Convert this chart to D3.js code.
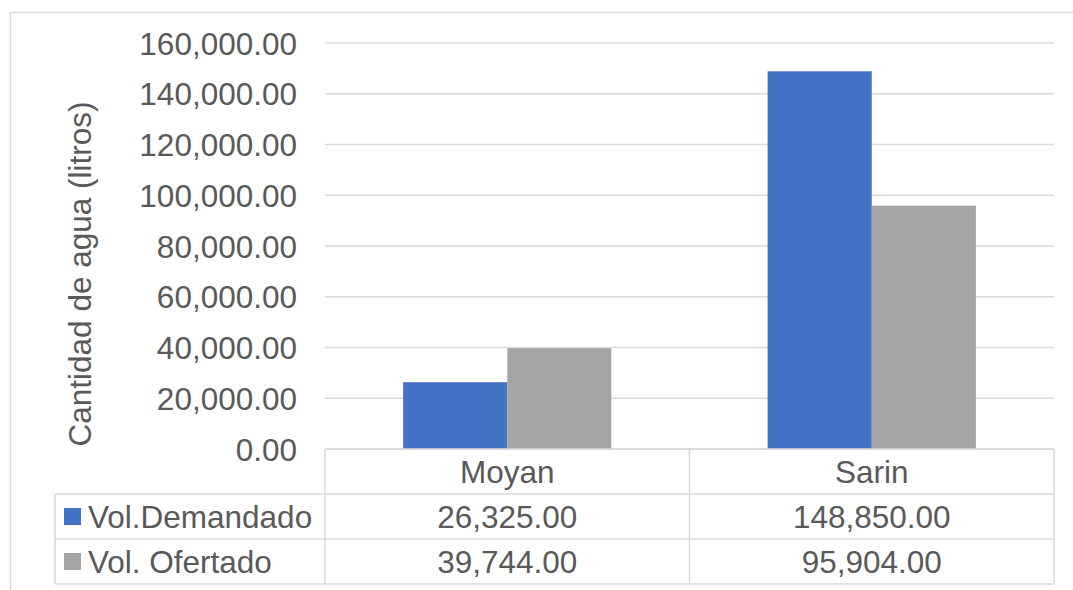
<!DOCTYPE html>
<html><head><meta charset="utf-8">
<script src="https://cdn.jsdelivr.net/npm/d3@7"></script>
<style>body{margin:0;background:#fff}svg{display:block}text{font-family:"Liberation Sans",Arial,sans-serif;fill:#595959}</style>
</head><body>
<script>
const categories = ["Moyan", "Sarin"];
const seriesNames = ["Vol.Demandado", "Vol. Ofertado"];
const demandado = [26325, 148850];
const ofertado = [39744, 95904];
const yTicks = [0, 20000, 40000, 60000, 80000, 100000, 120000, 140000, 160000];
const colors = ["#4472C4", "#A5A5A5"];
const seriesValues = [demandado, ofertado];

(function () {
const W = 1073, H = 590;
const svg = d3.select("body").append("svg").attr("width", W).attr("height", H);
const fs = 31.5;
const lineC = "#D9D9D9";

// outer chart border
svg.append("rect").attr("x", 10.5).attr("y", 12.5).attr("width", 1200).attr("height", 700)
  .attr("fill", "none").attr("stroke", lineC).attr("stroke-width", 1.5);

const pL = 325, pR = 1054, pT = 43, pB = 449;
const y = d3.scaleLinear().domain([0, 160000]).range([pB, pT]);
const x0 = d3.scaleBand().domain(categories).range([pL, pR]).padding(0);
const x1 = d3.scaleBand().domain(seriesNames).range([0, x0.bandwidth()]).paddingInner(0).paddingOuter(0.75);

// gridlines
svg.append("g").selectAll("line").data(yTicks).join("line")
  .attr("x1", pL).attr("x2", pR).attr("y1", d => y(d)).attr("y2", d => y(d))
  .attr("stroke", lineC).attr("stroke-width", 1.5);

// y axis labels
const fmt = d3.format(",.2f");
const yAxis = d3.axisLeft(y).tickValues(yTicks).tickFormat(fmt).tickSize(0).tickPadding(0);
const ga = svg.append("g").attr("transform", `translate(${pL - 28},0)`).call(yAxis);
ga.select(".domain").remove();
ga.selectAll("text").attr("font-size", fs).attr("fill", "#595959")
  .style("font-family", '"Liberation Sans",Arial,sans-serif').attr("dy", "0.35em");

// y title
svg.append("text").attr("transform", "translate(91,274) rotate(-90)")
  .attr("text-anchor", "middle").attr("font-size", fs).text("Cantidad de agua (litros)");

// bars
seriesNames.forEach((s, si) => {
  svg.append("g").selectAll("rect").data(categories).join("rect")
    .attr("x", c => x0(c) + x1(s))
    .attr("width", x1.bandwidth())
    .attr("y", (c, i) => y(seriesValues[si][i]))
    .attr("height", (c, i) => y(0) - y(seriesValues[si][i]))
    .attr("fill", colors[si]);
});

// data table
const rowH = 45;
const tTop = pB, tLeft = 55;
const g = svg.append("g").attr("stroke", lineC).attr("stroke-width", 1.5);
g.append("line").attr("x1", pL).attr("x2", pR).attr("y1", tTop).attr("y2", tTop);
[1, 2, 3].forEach(k => {
  g.append("line").attr("x1", tLeft).attr("x2", pR).attr("y1", tTop + k * rowH).attr("y2", tTop + k * rowH);
});
[pL, x0("Sarin"), pR].forEach(xx => {
  g.append("line").attr("x1", xx).attr("x2", xx).attr("y1", tTop).attr("y2", tTop + 3 * rowH);
});
g.append("line").attr("x1", tLeft).attr("x2", tLeft).attr("y1", tTop + rowH).attr("y2", tTop + 3 * rowH);

// header
svg.append("g").selectAll("text").data(categories).join("text")
  .attr("x", c => x0(c) + x0.bandwidth() / 2).attr("y", tTop + rowH / 2)
  .attr("dy", "0.35em").attr("text-anchor", "middle").attr("font-size", fs).text(c => c);

// rows
seriesNames.forEach((s, si) => {
  const cy = tTop + rowH * (si + 1) + rowH / 2;
  svg.append("rect").attr("x", 64).attr("y", cy - 8.5).attr("width", 17).attr("height", 17).attr("fill", colors[si]);
  svg.append("text").attr("x", 88).attr("y", cy).attr("dy", "0.35em").attr("font-size", fs).text(s);
  svg.append("g").selectAll("text").data(categories).join("text")
    .attr("x", c => x0(c) + x0.bandwidth() / 2).attr("y", cy)
    .attr("dy", "0.35em").attr("text-anchor", "middle").attr("font-size", fs)
    .text((c, i) => fmt(seriesValues[si][i]));
});
})();
</script>
</body></html>
